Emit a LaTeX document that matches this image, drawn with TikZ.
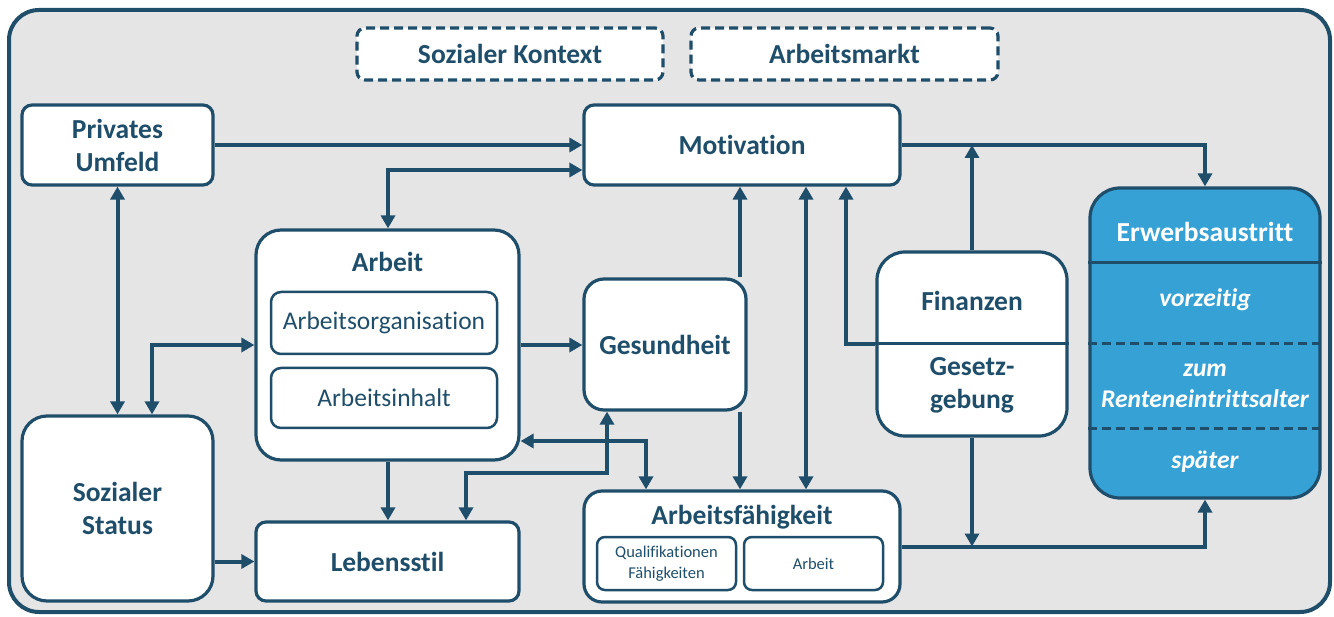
\documentclass[tikz,border=0pt]{standalone}
\usepackage{fontspec}
\setmainfont{Carlito}[Ligatures={NoCommon}]
\usetikzlibrary{arrows.meta,calc}
\definecolor{dblue}{HTML}{1F4E6B}
\definecolor{lblue}{HTML}{35A1D5}
\definecolor{bg}{HTML}{E5E5E5}
\tikzset{
  box/.style={draw=dblue, line width=3.2pt, fill=white, rounded corners=10pt, text=dblue,
    font=\fontsize{27.5}{33}\selectfont\bfseries, align=center, inner sep=0pt},
  dbox/.style={box, dash pattern=on 9pt off 5pt, rounded corners=8pt},
  sub/.style={box, line width=2.5pt, font=\fontsize{25.5}{29}\selectfont},
  small/.style={box, line width=2.5pt, rounded corners=8pt, font=\fontsize{16.5}{21}\selectfont},
  ttl/.style={text=dblue, font=\fontsize{27.5}{33}\selectfont\bfseries, align=center, inner sep=0pt},
  wt/.style={text=white, font=\fontsize{25.5}{31}\selectfont\bfseries\itshape, align=center, inner sep=0pt},
  arr/.style={draw=dblue, line width=4pt, -{Triangle[length=13pt,width=14pt]}},
  darr/.style={draw=dblue, line width=4pt, {Triangle[length=13pt,width=14pt]}-{Triangle[length=13pt,width=14pt]}},
  divl/.style={draw=dblue, line width=3pt},
  dashl/.style={draw=dblue, line width=3pt, dash pattern=on 9pt off 5pt},
}
\begin{document}
\begin{tikzpicture}[x=1pt,y=-1pt]
\useasboundingbox (0,0) rectangle (1334,617);
\draw[dblue, line width=4pt, fill=bg, rounded corners=30pt] (9,10) rectangle (1330,612);

% boxes
\node[dbox, minimum width=306pt, minimum height=52pt] (SK) at (510,54) {Sozialer Kontext};
\node[dbox, minimum width=307pt, minimum height=52pt] (AM) at (844.5,54) {Arbeitsmarkt};
\node[box, minimum width=191pt, minimum height=80pt] (PU) at (117.5,145) {Privates\\Umfeld};
\node[box, minimum width=316pt, minimum height=80pt] (Mot) at (742,145) {Motivation};
\node[box, minimum width=263pt, minimum height=230pt, rounded corners=25pt] (Arb) at (387.5,345) {};
\node[ttl] (ArbT) at (387.5,262) {Arbeit};
\node[sub, minimum width=226pt, minimum height=62pt] (AO) at (384,323) {Arbeitsorganisation};
\node[sub, minimum width=226pt, minimum height=60pt] (AI) at (384,398) {Arbeitsinhalt};
\node[box, minimum width=162pt, minimum height=131pt, rounded corners=20pt] (Ges) at (665,344.5) {Gesundheit};
\node[box, minimum width=190pt, minimum height=184pt, rounded corners=28pt] (Fin) at (972,344) {};
\draw[divl] (Fin.west) -- (Fin.east);
\node[ttl] (FinT) at (972,301) {Finanzen};
\node[ttl] (GesT) at (972,385) {Gesetz-\\gebung};
\node[box, fill=lblue, minimum width=230pt, minimum height=310pt, rounded corners=30pt] (Erw) at (1205,343) {};
\draw[divl] (Erw.west |- 0,263) -- (Erw.east |- 0,263);
\draw[dashl] (Erw.west |- 0,344) -- (Erw.east |- 0,344);
\draw[dashl] (Erw.west |- 0,429) -- (Erw.east |- 0,429);
\node[ttl, text=white] (ErwT) at (1205,232) {Erwerbsaustritt};
\node[wt] (E1) at (1205,300) {vorzeitig};
\node[wt] (E2) at (1205,386) {zum\\Renteneintrittsalter};
\node[wt] (E3) at (1205,462) {später};
\node[box, minimum width=191pt, minimum height=185pt, rounded corners=25pt] (SS) at (117.5,508.5) {Sozialer\\Status};
\node[box, minimum width=263pt, minimum height=79pt] (LS) at (387.5,561.5) {Lebensstil};
\node[box, minimum width=316pt, minimum height=111pt, rounded corners=18pt] (AF) at (742,546.5) {};
\node[ttl] (AFT) at (742,517) {Arbeitsfähigkeit};
\node[small, minimum width=139pt, minimum height=53pt] (Q) at (666.5,563.5) {Qualifikationen\\Fähigkeiten};
\node[small, minimum width=139pt, minimum height=53pt] (AFA) at (813.5,563.5) {Arbeit};

% coordinates
\coordinate (g1) at ([xshift=75pt]Ges.north);
\coordinate (g2) at ([xshift=75pt]Ges.south);
\coordinate (g3) at ([xshift=-58pt]Ges.south);
\coordinate (af1) at ([xshift=64pt]AF.north);
\coordinate (af2) at ([xshift=-96pt]AF.north);
\coordinate (m3) at ([xshift=104pt]Mot.south);
\coordinate (a1) at (Arb.north -| 388,0);
\coordinate (a2) at ([yshift=-96pt]Arb.east);
\coordinate (l1) at (LS.north -| 388,0);
\coordinate (l2) at ([xshift=78.5pt]LS.north);
\coordinate (j1) at (607,473);
\coordinate (s1) at ([xshift=34.5pt]SS.north);

% connectors
\draw[arr] (PU.east) -- (Mot.west);
\draw[darr] (PU.south) -- (SS.north);
\draw[darr] (a1) |- ([yshift=-25pt]Mot.west);
\draw[darr] (s1) |- (Arb.west);
\draw[arr] (Arb.east) -- (Ges.west |- Arb.east);
\draw[arr] (g1) -- (g1 |- Mot.south);
\draw[darr] (af1) -- (af1 |- Mot.south);
\draw[arr] (Fin.west) -| (m3);
\draw[arr] (Mot.east) -| (Erw.north);
\draw[arr] (Fin.north) -- (Fin.north |- Mot.east);
\draw[arr] (g2) -- (g2 |- AF.north);
\draw[arr] (AF.east) -| (Erw.south);
\draw[arr] (Fin.south) -- (Fin.south |- AF.east);
\draw[arr] (Arb.south -| l1) -- (l1);
\draw[arr] (SS.east |- LS.west) -- (LS.west);
\draw[darr] (l2) |- (j1) -- (g3);
\draw[darr] (a2) -| (af2);
\end{tikzpicture}
\end{document}
